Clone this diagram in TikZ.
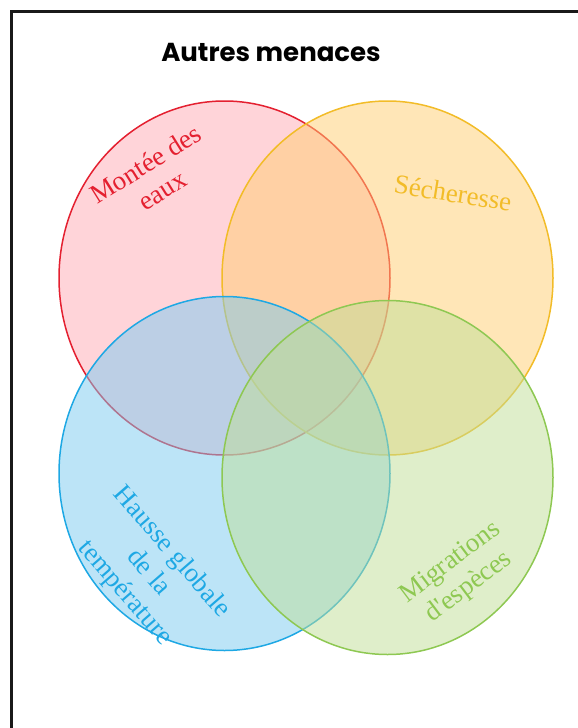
\documentclass[tikz,border=0pt]{standalone}
\usepackage{fontspec}
\setmainfont{Liberation Serif}
\newfontfamily\titlefont{Poppins}
\usetikzlibrary{shapes.geometric}
\definecolor{redline}{RGB}{228,32,48}
\definecolor{redfill}{RGB}{255,170,180}
\definecolor{orline}{RGB}{242,188,40}
\definecolor{orfill}{RGB}{255,205,112}
\definecolor{blline}{RGB}{30,168,228}
\definecolor{blfill}{RGB}{122,202,240}
\definecolor{grline}{RGB}{142,200,82}
\definecolor{grfill}{RGB}{192,222,150}
\tikzset{
  setell/.style={ellipse, draw=#1line, fill=#1fill, fill opacity=0.5, line width=1.5pt,
    minimum width=331pt, minimum height=354pt, inner sep=0pt},
  setlabel/.style={text=#1line, font=\fontsize{27}{31}\selectfont, align=center, inner sep=0pt}
}
\begin{document}
\begin{tikzpicture}[x=1pt,y=-1pt]
\useasboundingbox (0,0) rectangle (578,728);
\draw[line width=3pt, black!90] (578,11.5) -- (11,11.5) -- (11,728);
\node[font=\titlefont\bfseries\fontsize{26}{30}\selectfont] (title) at (271,52) {Autres menaces};
\node[setell=red] (rouge) at (224.5,278) {};
\node[setell=or] (orange) at (387.5,278) {};
\node[setell=bl] (bleu) at (224.5,473.5) {};
\node[setell=gr] (vert) at (387.5,477.5) {};
\node[setlabel=red, rotate=32] (l1) at (154,177) {Montée des\\eaux};
\node[setlabel=or, rotate=-9] (l2) at (453,193) {Sécheresse};
\node[setlabel=bl, rotate=-49] (l3) at (148,573) {Hausse globale\\de la\\température};
\node[setlabel=gr, rotate=37] (l4) at (460,575) {Migrations\\d\textquotesingle espèces};
\end{tikzpicture}
\end{document}
